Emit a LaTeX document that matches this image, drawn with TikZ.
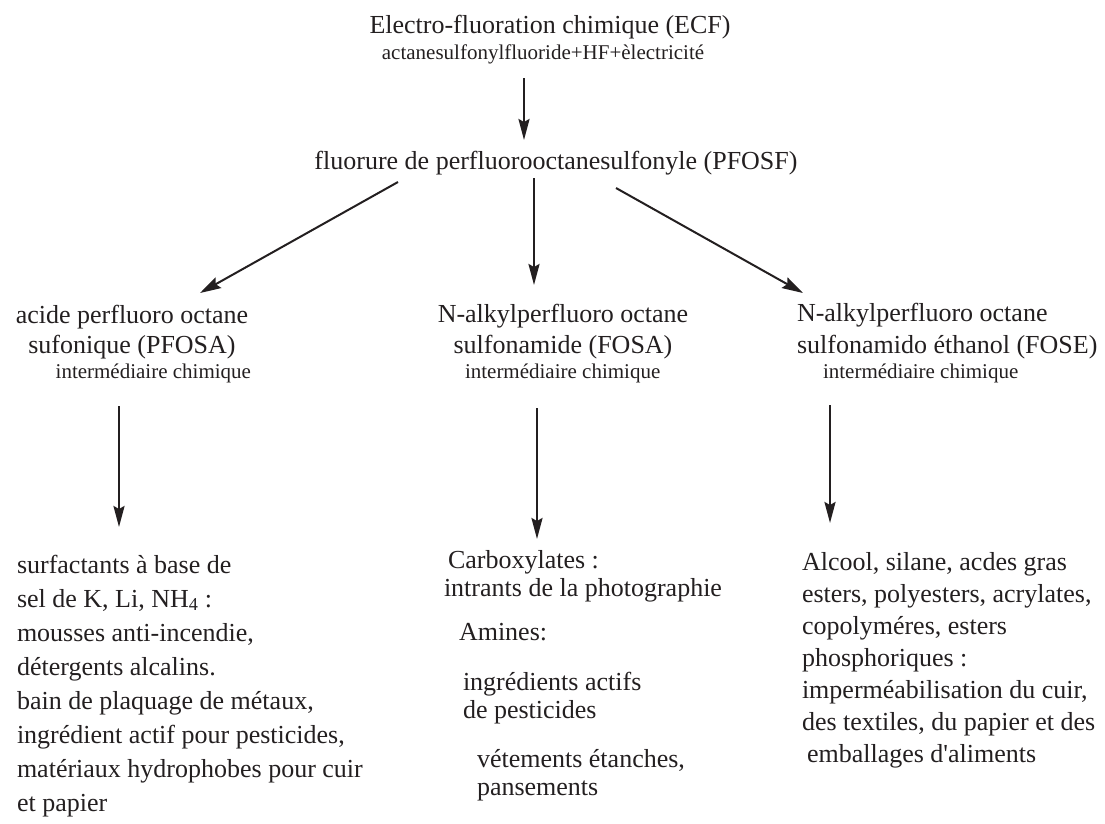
\documentclass[tikz,border=0pt]{standalone}
\usepackage{fontspec}
\setmainfont{Liberation Serif}[Ligatures={TeXOff,NoCommon}]
\usetikzlibrary{arrows.meta}
\definecolor{ink}{RGB}{35,31,32}
\newcommand\bigtxt{\fontsize{26}{30}\selectfont}
\newcommand\smalltxt{\fontsize{21}{25}\selectfont}
\newcommand\blockL[2]{{\fontsize{26}{#1}\selectfont\begin{tabular}[t]{@{}l@{}}#2\end{tabular}}}
\newcommand\blockC[2]{{\fontsize{26}{#1}\selectfont\begin{tabular}[t]{@{}c@{}}#2\end{tabular}}}
\begin{document}
\begin{tikzpicture}[x=1pt,y=-1pt,
  txt/.style={inner sep=0pt,outer sep=0pt,text=ink,font=\bigtxt},
  small/.style={inner sep=0pt,outer sep=0pt,text=ink,font=\smalltxt},
  arr/.style={draw=ink,line width=2.4pt,-{Stealth[length=21pt,width=11pt,inset=3pt]}},
  darr/.style={draw=ink,line width=2pt,-{Stealth[length=21pt,width=12pt,inset=3pt]}}]
\useasboundingbox (0,0) rectangle (1105,823);
% top
\node[txt,anchor=base] (ecf) at (550,33) {Electro-fluoration chimique (ECF)};
\node[small,anchor=base] (ecfsub) at (543,59) {actanesulfonylfluoride+HF+èlectricité};
\node[txt,anchor=base] (pfosf) at (556,169) {fluorure de perfluorooctanesulfonyle (PFOSF)};
% arrow coordinates
\coordinate (a1s) at (524,78);
\coordinate (a1e) at (524,140);
\coordinate (dls) at (398,182);
\coordinate (dle) at (200,293);
\coordinate (dms) at (534,178);
\coordinate (dme) at (534,285);
\coordinate (drs) at (616,188);
\coordinate (dre) at (803,293);
% middle row
\node[txt,anchor=base] (pfosa) at (132,323) {\blockC{30}{acide perfluoro octane\\sufonique (PFOSA)}};
\node[small,anchor=base east] (intL) at (251,378) {intermédiaire chimique};
\node[txt,anchor=base] (fosa) at (563,322) {\blockC{31}{N-alkylperfluoro octane\\sulfonamide (FOSA)}};
\node[small,anchor=base west] (intM) at (465,378) {intermédiaire chimique};
\node[txt,anchor=base west] (fose) at (797,321) {\blockL{32}{N-alkylperfluoro octane\\sulfonamido éthanol (FOSE)}};
\node[small,anchor=base west] (intR) at (823,378) {intermédiaire chimique};
% down arrows coordinates
\coordinate (bls) at (119,406);
\coordinate (ble) at (119,527);
\coordinate (bms) at (537,408);
\coordinate (bme) at (537,539);
\coordinate (brs) at (830,405);
\coordinate (bre) at (830,523);
% bottom left
\node[txt,anchor=base west] (useL) at (17,573) {\blockL{34}{surfactants à base de\\sel de K, Li, NH\textsubscript{4} :\\mousses anti-incendie,\\détergents alcalins.\\bain de plaquage de métaux,\\ingrédient actif pour pesticides,\\matériaux hydrophobes pour cuir\\et papier}};
% bottom middle
\node[txt,anchor=base west] (carb) at (444,568) {\blockL{28}{\hspace{4pt}Carboxylates :\\intrants de la photographie}};
\node[txt,anchor=base west] (amin) at (459,640) {Amines:};
\node[txt,anchor=base west] (ingr) at (463,690) {\blockL{28}{ingrédients actifs\\de pesticides}};
\node[txt,anchor=base west] (vete) at (477,767) {\blockL{28}{vétements étanches,\\pansements}};
% bottom right
\node[txt,anchor=base west] (useR) at (802,570) {\blockL{32}{Alcool, silane, acdes gras\\esters, polyesters, acrylates,\\copolyméres, esters\\phosphoriques :\\imperméabilisation du cuir,\\des textiles, du papier et des\\\hspace{5pt}emballages d'aliments}};
% arrows
\draw[arr] (a1s) -- (a1e);
\draw[darr] (dls) -- (dle);
\draw[arr] (dms) -- (dme);
\draw[darr] (drs) -- (dre);
\draw[arr] (bls) -- (ble);
\draw[arr] (bms) -- (bme);
\draw[arr] (brs) -- (bre);
\end{tikzpicture}
\end{document}
